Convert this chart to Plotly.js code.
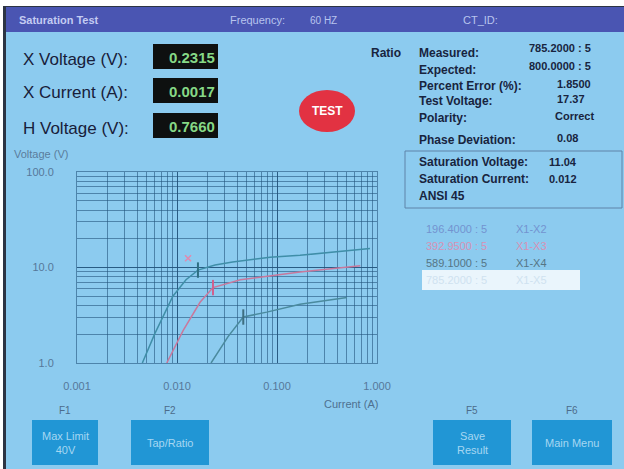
<!DOCTYPE html>
<html><head><meta charset="utf-8">
<script src="https://cdn.plot.ly/plotly-3.0.1.min.js"></script>
<style>html,body{margin:0;padding:0;background:#fff;overflow:hidden}#chart{width:624px;height:469px}</style>
</head><body><div id="chart"></div>
<script>
// ---- data ----
const currentA = [0.0045, 0.006, 0.0091, 0.0123, 0.0162, 0.024, 0.036, 0.085, 0.17, 0.43, 0.85];
const voltageA = [1.0, 2.03, 5.0, 7.45, 9.4, 10.6, 11.4, 12.8, 13.4, 14.8, 15.8];
const currentB = [0.0079, 0.0115, 0.017, 0.0229, 0.043, 0.17, 0.68];
const voltageB = [1.0, 2.18, 4.32, 6.16, 7.45, 8.98, 10.4];
const currentC = [0.0219, 0.0324, 0.046, 0.079, 0.17, 0.50];
const voltageC = [1.0, 1.89, 3.03, 3.41, 4.13, 4.86];
const kneeCurrent = [0.0162, 0.0229, 0.046];
const kneeVoltage = [9.4, 6.16, 3.03];
const markCurrent = [0.0129];
const markVoltage = [12.5];
const xTickVals = [0.001, 0.01, 0.1, 1];
const xTickText = ['0.001', '0.010', '0.100', '1.000'];
const yTickVals = [1, 10, 100];
const yTickText = ['1.0', '10.0', '100.0'];
const tapRatios = ['196.4000 : 5', '392.9500 : 5', '589.1000 : 5', '785.2000 : 5'];
const tapNames = ['X1-X2', 'X1-X3', 'X1-X4', 'X1-X5'];
const readLabels = ['X Voltage (V):', 'X Current (A):', 'H Voltage (V):'];
const readValues = ['0.2315', '0.0017', '0.7660'];
const ratioLabels = ['Measured:', 'Expected:', 'Percent Error (%):', 'Test Voltage:', 'Polarity:', 'Phase Deviation:'];
const ratioValues = ['785.2000 : 5', '800.0000 : 5', '1.8500', '17.37', 'Correct', '0.08'];
const satLabels = ['Saturation Voltage:', 'Saturation Current:', 'ANSI 45'];
const satValues = ['11.04', '0.012', ''];
const fKeys = ['F1', 'F2', 'F5', 'F6'];
const buttonText = ['Max Limit<br>40V', 'Tap/Ratio', 'Save<br>Result', 'Main Menu'];

// ---- geometry helpers (pixel -> paper) ----
const L = 77, T = 172, R = 377, B = 363, W = R - L, H = B - T;
const px = x => (x - L) / W;
const py = y => (B - y) / H;
const BG = '#8ccbef';
const FONT = 'Liberation Sans, Arial, sans-serif';

const shapes = [];
const ann = [];
function rect(x0, y0, x1, y1, fill, line) {
  shapes.push({type: 'rect', xref: 'paper', yref: 'paper', x0: px(x0), x1: px(x1), y0: py(y1), y1: py(y0),
    fillcolor: fill, line: line || {width: 0}, layer: 'above'});
}
function txt(x, y, text, size, color, xa, bold, extra) {
  ann.push(Object.assign({xref: 'paper', yref: 'paper', x: px(x), y: py(y), text: bold ? '<b>' + text + '</b>' : text,
    showarrow: false, xanchor: xa || 'left', yanchor: 'middle', borderpad: 0,
    font: {family: FONT, size: size, color: color}}, extra || {}));
}

// frame
rect(0, 0, 624, 7, '#ffffff');
rect(0, 0, 3, 469, '#ffffff');
rect(3, 6, 6, 469, '#2c3444');
rect(3, 6, 624, 7, '#2c3444');
// header
rect(6, 7, 624, 32, '#4a55b2');
txt(18, 20, 'Saturation Test', 11, '#c4ccf2', 'left', true);
txt(229, 20, 'Frequency:', 11, '#b8c4ee');
txt(309, 20, '60 HZ', 10, '#b8c4ee');
txt(462, 20, 'CT_ID:', 11, '#b8c4ee');

// readouts
const readY = [57, 91, 126];
readLabels.forEach((s, i) => {
  txt(22, readY[i] + 2, s, 17, '#18203a');
  rect(153, readY[i] - 13, 218, readY[i] + 12, '#0e1010');
  txt(216, readY[i], readValues[i], 15, '#86d886', 'right', true);
});

// TEST button
shapes.push({type: 'circle', xref: 'paper', yref: 'paper', x0: px(299), x1: px(355), y0: py(132), y1: py(90),
  fillcolor: '#e23242', line: {width: 0}, layer: 'above'});
txt(327, 111, 'TEST', 12, '#ffffff', 'center', true);

// ratio block
txt(370, 53, 'Ratio', 12, '#18243e', 'left', true);
const rY = [53, 70, 86, 101, 118, 140];
ratioLabels.forEach((s, i) => txt(418, rY[i], s, 12, '#18243e', 'left', true));
txt(592, 48, ratioValues[0], 11, '#18243e', 'right', true);
txt(592, 66, ratioValues[1], 11, '#18243e', 'right', true);
[2, 3, 4, 5].forEach(i => txt(i === 4 ? 554 : 556, rY[i] - 2, ratioValues[i], 11, '#18243e', 'left', true));

// saturation box
rect(405, 151, 622, 208, 'rgba(0,0,0,0)', {width: 1, color: '#5f83a8'});
const sY = [162, 179, 196];
satLabels.forEach((s, i) => {
  txt(418, sY[i], s, 12, '#18243e', 'left', true);
  if (satValues[i]) txt(548, sY[i], satValues[i], 11, '#18243e', 'left', true);
});

// tap list
rect(422, 270, 580, 290, '#eaf5fc');
const tapColors = ['#7393cf', '#d792b6', '#557585', '#cfe2f0'];
const tY = [229, 246, 263, 280];
tapRatios.forEach((s, i) => {
  txt(425, tY[i], s, 11, tapColors[i]);
  txt(515, tY[i], tapNames[i], 11, tapColors[i]);
});

// axis titles
txt(13, 154, 'Voltage (V)', 11, '#5a7c9c');
txt(323, 404, 'Current (A)', 11, '#4e7090');

// function keys
const btnX = [[32, 98], [131, 209], [433, 511], [532, 612]];
btnX.forEach((b, i) => {
  txt((b[0] + b[1]) / 2, 410, fKeys[i], 10, '#4c6c8a', 'center');
  rect(b[0], 420, b[1], 465, '#2196d5');
  txt((b[0] + b[1]) / 2, 443, buttonText[i], 11, '#a6d6f2', 'center');
});

const traces = [
  {x: currentA, y: voltageA, type: 'scatter', mode: 'lines', line: {color: '#3f8ea8', width: 1.5}, hoverinfo: 'skip'},
  {x: currentB, y: voltageB, type: 'scatter', mode: 'lines', line: {color: '#c9789c', width: 1.5}, hoverinfo: 'skip'},
  {x: currentC, y: voltageC, type: 'scatter', mode: 'lines', line: {color: '#4a8a9e', width: 1.5}, hoverinfo: 'skip'},
  {x: kneeCurrent, y: kneeVoltage, type: 'scatter', mode: 'markers',
   marker: {symbol: 'line-ns', size: 11, line: {width: 2, color: ['#2e6e82', '#d0608e', '#3e6e80']}}, hoverinfo: 'skip'},
  {x: markCurrent, y: markVoltage, type: 'scatter', mode: 'markers',
   marker: {symbol: 'x-thin', size: 6, line: {width: 1.5, color: '#e08ab0'}}, hoverinfo: 'skip'}
];

const gridMajor = 'rgba(35,85,125,0.85)';
const gridMinor = 'rgba(35,85,125,0.6)';
const layout = {
  width: 624, height: 469,
  margin: {l: L, r: 624 - R, t: T, b: 469 - B, pad: 0},
  paper_bgcolor: BG, plot_bgcolor: BG,
  showlegend: false,
  font: {family: FONT},
  xaxis: {type: 'log', range: [-3, 0], tickvals: xTickVals, ticktext: xTickText,
    showgrid: true, gridcolor: gridMajor, gridwidth: 1, zeroline: false,
    showline: true, mirror: true, linecolor: gridMinor, linewidth: 1,
    ticks: '', ticklabelstandoff: 13, tickfont: {size: 11, color: '#56789a', family: FONT},
    minor: {dtick: 'D1', showgrid: true, gridcolor: gridMinor, gridwidth: 1, ticks: ''}},
  yaxis: {type: 'log', range: [0, 2], tickvals: yTickVals, ticktext: yTickText,
    showgrid: true, gridcolor: gridMajor, gridwidth: 1, zeroline: false,
    showline: true, mirror: true, linecolor: gridMinor, linewidth: 1,
    ticks: '', ticklabelstandoff: 20, tickfont: {size: 11, color: '#56789a', family: FONT},
    minor: {dtick: 'D1', showgrid: true, gridcolor: gridMinor, gridwidth: 1, ticks: ''}},
  shapes: shapes,
  annotations: ann
};
Plotly.newPlot('chart', traces, layout, {staticPlot: true, displayModeBar: false});
</script></body></html>
